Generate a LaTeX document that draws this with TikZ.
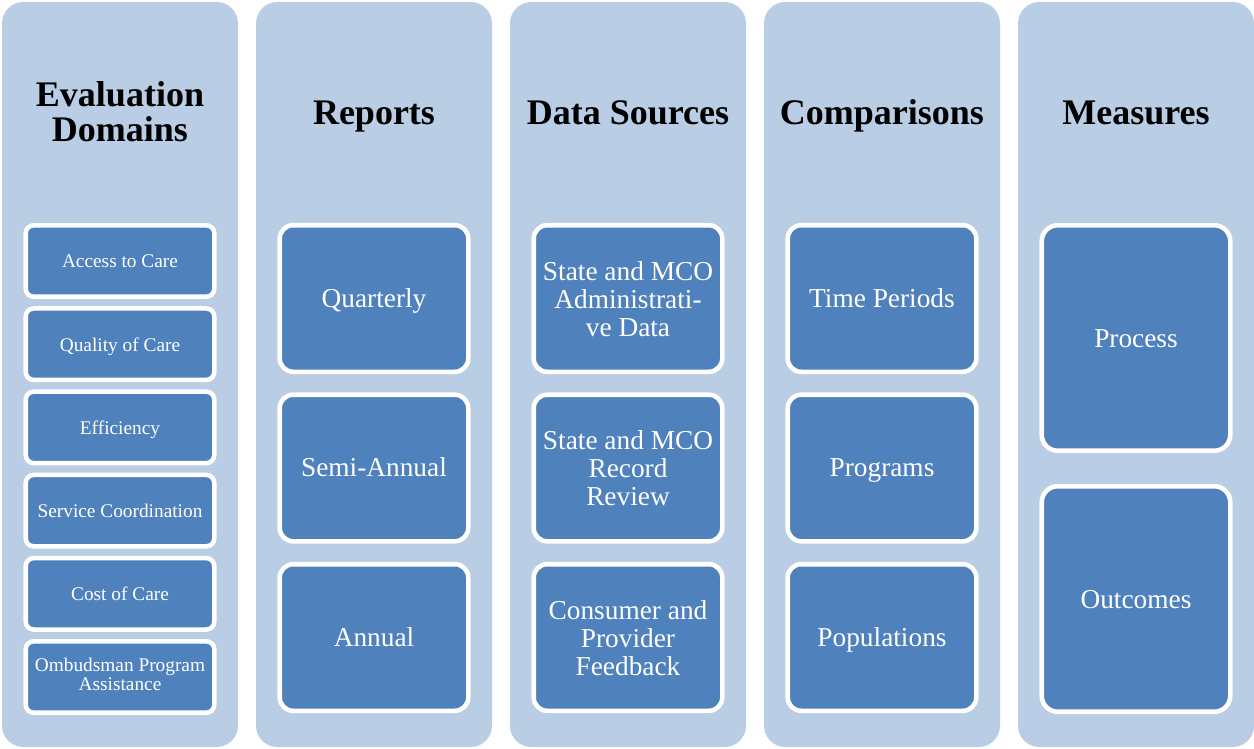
\documentclass[tikz,border=0pt]{standalone}
\usepackage{fontspec}
\setmainfont{Liberation Serif}
\definecolor{panelblue}{RGB}{185,205,229}
\definecolor{tileblue}{RGB}{79,129,189}
% raises the top of the first text line so that stacked labels sit lower
\newcommand{\toplift}{\rule{0pt}{21pt}}

\begin{document}
\begin{tikzpicture}[x=0.75pt,y=-0.75pt,
  panel/.style={fill=panelblue, rounded corners=16pt, minimum width=177pt,
    minimum height=558.75pt, inner sep=0pt},
  heading/.style={font=\fontsize{27}{26}\selectfont\bfseries, text=black,
    align=center, inner sep=0pt},
  tilebox/.style={fill=tileblue, draw=white, line width=3.4pt, text=white,
    align=center, minimum width=141.4pt, inner sep=2pt,
    execute at end node=\strut},
  smalltile/.style={tilebox, rounded corners=6pt, minimum height=53.6pt,
    font=\fontsize{14.5}{14.5}\selectfont,
    execute at begin node={\rule{0pt}{14.65pt}}},
  midtile/.style={tilebox, rounded corners=10pt, minimum height=109.9pt,
    font=\fontsize{20.5}{21}\selectfont,
    execute at begin node={\rule{0pt}{19.2pt}}},
  talltile/.style={tilebox, rounded corners=12pt, minimum height=169.1pt,
    font=\fontsize{20.5}{21}\selectfont,
    execute at begin node={\rule{0pt}{20.7pt}}}]

  % page
  \fill[white] (0,0) rectangle (1254,749);
  \useasboundingbox (0,0) rectangle (1254,749);

  % five columns
  \node[panel] (colA) at (120,374.5) {};
  \node[panel] (colB) at (374,374.5) {};
  \node[panel] (colC) at (628,374.5) {};
  \node[panel] (colD) at (882,374.5) {};
  \node[panel] (colE) at (1136,374.5) {};

  % column headings
  \node[heading] (hA) at (120,112) {Evaluation\\Domains};
  \node[heading, anchor=base] (hB) at (374,125) {Reports};
  \node[heading, anchor=base] (hC) at (628,125) {Data Sources};
  \node[heading, anchor=base] (hD) at (882,125) {Comparisons};
  \node[heading, anchor=base] (hE) at (1136,125) {Measures};

  % evaluation domains
  \node[smalltile] (a1) at (120,261) {Access to Care};
  \node[smalltile] (a2) at (120,344.2) {Quality of Care};
  \node[smalltile] (a3) at (120,427.4) {Efficiency};
  \node[smalltile] (a4) at (120,510.6) {Service Coordination};
  \node[smalltile] (a5) at (120,593.8) {Cost of Care};
  \node[smalltile] (a6) at (120,677) {Ombudsman Program\\Assistance};

  % reports
  \node[midtile] (b1) at (374,298.5) {Quarterly};
  \node[midtile] (b2) at (374,468) {Semi-Annual};
  \node[midtile] (b3) at (374,637.5) {Annual};

  % data sources
  \node[midtile] (c1) at (628,298.5) {\toplift State and MCO\\Administrati-\\ve Data};
  \node[midtile] (c2) at (628,468) {\toplift State and MCO\\Record\\Review};
  \node[midtile] (c3) at (628,637.5) {\toplift Consumer and\\Provider\\Feedback};

  % comparisons
  \node[midtile] (d1) at (882,298.5) {Time Periods};
  \node[midtile] (d2) at (882,468) {Programs};
  \node[midtile] (d3) at (882,637.5) {Populations};

  % measures
  \node[talltile] (e1) at (1136,338) {Process};
  \node[talltile] (e2) at (1136,599) {Outcomes};
\end{tikzpicture}
\end{document}
